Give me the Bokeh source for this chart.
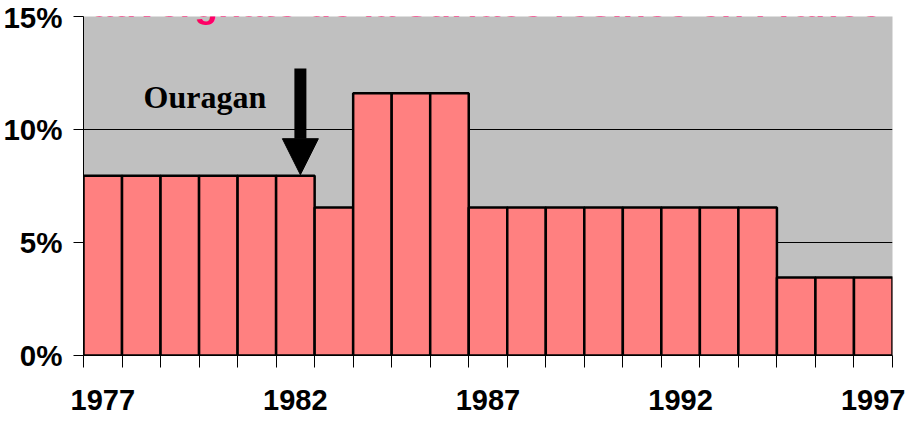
from bokeh.plotting import figure
from bokeh.models import Range1d, FixedTicker, Label, Arrow, NormalHead
from bokeh.embed import file_html
from bokeh.resources import INLINE

# ---- data ----
years = [1977, 1978, 1979, 1980, 1981, 1982, 1983, 1984, 1985, 1986, 1987,
         1988, 1989, 1990, 1991, 1992, 1993, 1994, 1995, 1996, 1997]
shares = [7.95, 7.95, 7.95, 7.95, 7.95, 7.95, 6.55, 11.6, 11.6, 11.6, 6.55,
          6.55, 6.55, 6.55, 6.55, 6.55, 6.55, 6.55, 3.45, 3.45, 3.45]
label_years = [1977, 1982, 1987, 1992, 1997]
y_ticks = [0, 5, 10, 15]
y_tick_labels = ["0%", "5%", "10%", "15%"]
title_text = "Part auvergnate de la surface résinée en France"
event_text = "Ouragan"
event_year = 1982
event_share = 7.95

p = figure(width=906, height=417, output_backend="svg", toolbar_location=None,
           x_range=Range1d(years[0] - 0.5, years[-1] + 0.5),
           y_range=Range1d(0, 15),
           min_border_left=83, min_border_right=14,
           min_border_top=16, min_border_bottom=62)
p.background_fill_color = "#C0C0C0"
p.border_fill_color = "white"
p.outline_line_color = None

p.vbar(x=years, top=shares, width=1, bottom=0,
       fill_color="#FF8080", line_color="black", line_width=2.5)

# grid
p.xgrid.grid_line_color = None
p.ygrid.ticker = FixedTicker(ticks=y_ticks)
p.ygrid.grid_line_color = "black"
p.ygrid.grid_line_width = 1

# x axis
bounds = [y - 0.5 for y in years] + [years[-1] + 0.5]
xa = p.xaxis[0]
xa.ticker = FixedTicker(ticks=label_years, minor_ticks=bounds)
xa.major_tick_line_color = None
xa.major_tick_out = 12
xa.major_tick_in = 0
xa.minor_tick_out = 12
xa.minor_tick_in = 0
xa.minor_tick_line_color = "black"
xa.axis_line_color = "black"
xa.major_label_standoff = 22
xa.major_label_text_font = "Liberation Sans"
xa.major_label_text_font_style = "bold"
xa.major_label_text_font_size = "29px"
xa.major_label_text_color = "black"

# y axis
ya = p.yaxis[0]
ya.ticker = FixedTicker(ticks=y_ticks)
ya.major_label_overrides = {t: l for t, l in zip(y_ticks, y_tick_labels)}
ya.minor_tick_line_color = None
ya.major_tick_out = 10
ya.major_tick_in = 0
ya.major_tick_line_color = "black"
ya.axis_line_color = "black"
ya.major_label_standoff = 11
ya.major_label_text_font = "Liberation Sans"
ya.major_label_text_font_style = "bold"
ya.major_label_text_font_size = "29.5px"
ya.major_label_text_color = "black"

# annotation: hurricane
p.add_layout(Arrow(end=NormalHead(size=36, fill_color="black", line_color="black"),
                   x_start=event_year + 0.13, y_start=12.7,
                   x_end=event_year + 0.13, y_end=event_share + 0.05,
                   line_width=12, line_color="black"))
p.add_layout(Label(x=1978.06, y=11.42, text=event_text,
                   text_font="Liberation Serif", text_font_style="bold",
                   text_font_size="32px", text_color="black",
                   text_align="left", text_baseline="alphabetic"))

# title (partly cut at the top, as in the original)
p.add_layout(Label(x=1985.85, y=15.575, text=title_text,
                   text_font="Liberation Sans", text_font_style="bold",
                   text_font_size="38.5px", text_color="#FF0066",
                   text_align="center", text_baseline="alphabetic"))

open("out.html", "w").write(file_html(p, INLINE))
